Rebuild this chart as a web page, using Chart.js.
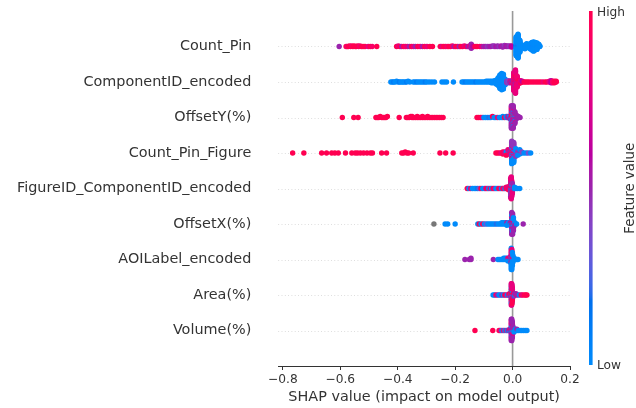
<!DOCTYPE html>
<html><head><meta charset="utf-8">
<script src="https://cdn.jsdelivr.net/npm/chart.js@4.4.1/dist/chart.umd.min.js"></script>
<style>html,body{margin:0;padding:0;background:#fff;} canvas{display:block;}</style>
</head><body>
<canvas id="c" width="636" height="408"></canvas>
<script>
// Features, top to bottom
const features = ["Count_Pin","ComponentID_encoded","OffsetY(%)","Count_Pin_Figure","FigureID_ComponentID_encoded","OffsetX(%)","AOILabel_encoded","Area(%)","Volume(%)"];
const xTicks = [-0.8,-0.6,-0.4,-0.2,0.0,0.2];
const xTitle = "SHAP value (impact on model output)";
const cbarLabel = "Feature value";
const cbarHigh = "High", cbarLow = "Low";

// Each entry: [SHAP value, normalised feature value (0 low .. 1 high, null = missing), number of samples]
const countPin = [[-0.604,0.5,1],
[-0.580,1,1],[-0.576,0.85,1],[-0.572,1,1],[-0.568,1,1],[-0.564,1,1],[-0.560,0.9,1],[-0.556,1,1],[-0.552,1,1],[-0.548,1,1],[-0.544,1,1],[-0.540,1,1],[-0.536,1,1],[-0.532,0.85,1],[-0.527,1,1],[-0.521,1,1],[-0.514,1,1],
[-0.503,0.8,1],[-0.496,1,1],[-0.489,0.9,1],[-0.473,1,1],
[-0.404,1,1],[-0.398,0.8,1],[-0.392,1,1],[-0.386,0.55,1],[-0.379,1,1],[-0.373,0.9,1],[-0.366,0.8,1],[-0.359,0.5,1],[-0.352,1,1],[-0.345,0.8,1],[-0.338,0.5,1],[-0.330,1,1],[-0.322,0.9,1],[-0.314,0.55,1],[-0.306,1,1],[-0.298,0.8,1],[-0.288,1,1],[-0.279,1,1],
[-0.252,1,1],[-0.246,0.8,1],[-0.240,1,1],[-0.234,1,1],[-0.228,0.85,1],[-0.222,1,1],[-0.216,1,1],[-0.210,0.9,1],[-0.204,0.55,1],[-0.198,1,1],[-0.192,1,1],[-0.186,0.5,1],[-0.180,1,1],[-0.174,1,1],[-0.168,0.8,1],[-0.162,1,1],[-0.156,0.55,1],
[-0.149,0.75,2],[-0.144,0.5,5],[-0.144,0.85,3],[-0.138,0.6,1],
[-0.131,1,1],[-0.124,1,1],
[-0.114,1,1],[-0.107,0.75,1],[-0.100,0.5,1],[-0.094,0.55,1],[-0.088,0.45,1],[-0.082,0.5,1],[-0.076,0.55,1],[-0.070,0.5,1],[-0.064,0.45,2],[-0.058,0.55,1],[-0.052,0.5,2],[-0.046,0.45,1],[-0.040,0.55,2],[-0.034,0.5,2],[-0.028,0.45,2],[-0.022,0.55,2],[-0.016,0.5,2],[-0.010,0.45,2],[-0.004,0.6,3],
[0.013,0,30],[0.013,0.15,4],[0.019,0,38],[0.019,0.2,4],[0.025,0,22],
[0.031,0,6],[0.037,0,5],[0.043,0,5],[0.049,0,5],[0.055,0,6],[0.061,0,10],[0.067,0,14],[0.073,0,16],[0.073,0.25,1],[0.079,0,14],[0.085,0,8],[0.091,0,4],[0.095,0,2]];

const componentID = [[-0.424,0,1],[-0.419,0,1],[-0.414,0.1,1],[-0.409,0,1],[-0.404,0,1],[-0.399,0,1],[-0.394,0.1,1],[-0.389,0,1],[-0.384,0,1],[-0.379,0,1],[-0.374,0,1],[-0.369,0.1,1],[-0.364,0,1],[-0.358,0,1],
[-0.346,0,1],[-0.340,0,1],[-0.334,0.1,1],[-0.328,0,1],[-0.322,0,1],[-0.316,0,1],[-0.310,0,1],[-0.304,0.1,1],[-0.298,0,1],[-0.290,0,1],
[-0.281,0,1],[-0.272,0,1],
[-0.246,0,1],[-0.238,0,1],[-0.230,0,1],
[-0.206,0,1],
[-0.176,0,1],[-0.170,0,1],[-0.164,0.1,1],[-0.158,0,1],[-0.152,0,1],[-0.146,0,1],[-0.140,0,1],[-0.134,0,1],[-0.128,0.1,1],[-0.122,0,1],[-0.116,0,1],[-0.110,0,1],[-0.104,0,1],[-0.098,0,1],[-0.092,0,2],[-0.086,0,2],[-0.080,0,2],[-0.074,0,3],[-0.068,0,3],[-0.062,0,4],
[-0.056,0,7],[-0.050,0,12],[-0.044,0,20],[-0.038,0,24],[-0.032,0,22],[-0.026,0,9],
[-0.020,0.45,3],[-0.014,0.4,3],[-0.014,0,1],[-0.008,0.5,2],[-0.008,0.8,1],[-0.002,0.8,2],[-0.002,0.5,2],
[0.004,0.8,16],[0.004,1,6],[0.004,0.5,4],[0.010,0.8,18],[0.010,1,8],[0.010,0.5,4],[0.010,0.65,4],[0.016,0.85,10],[0.016,1,4],[0.016,0.5,2],
[0.022,0.8,3],[0.022,1,2],[0.028,1,2],[0.028,0.8,2],[0.034,1,1],[0.034,0.6,1],[0.040,1,1],[0.046,1,1],[0.052,1,1],[0.058,1,1],[0.066,1,1],[0.074,1,1],[0.082,1,1],[0.090,1,1],[0.098,1,1],[0.106,0.85,1],[0.114,1,1],[0.120,1,1],
[0.128,0.8,2],[0.134,0.6,3],[0.134,1,1],[0.140,0.9,3],[0.146,1,3],[0.152,1,2]];

const offsetY = [[-0.593,1,1],[-0.553,1,1],[-0.538,1,1],
[-0.476,1,1],[-0.471,1,1],[-0.466,1,1],[-0.461,1,1],[-0.456,1,1],[-0.451,1,1],[-0.446,1,1],[-0.441,1,1],[-0.436,1,1],
[-0.395,1,1],
[-0.370,1,1],[-0.365,1,1],[-0.360,1,1],[-0.355,1,1],[-0.350,1,2],[-0.344,1,1],[-0.338,1,1],[-0.332,1,2],[-0.326,1,1],[-0.320,1,1],[-0.314,1,2],[-0.308,1,1],[-0.302,1,1],[-0.296,1,2],[-0.290,1,1],[-0.284,1,1],[-0.278,1,1],[-0.272,1,1],[-0.266,1,1],[-0.260,1,1],[-0.254,1,1],[-0.248,1,1],[-0.242,1,1],
[-0.124,1,1],[-0.118,1,1],[-0.112,1,1],[-0.106,0.9,1],[-0.100,0,1],[-0.094,0,1],[-0.088,0,1],[-0.082,0.2,1],[-0.076,0,1],[-0.070,1,1],[-0.064,0,1],[-0.058,0,1],[-0.052,0.85,1],[-0.046,0,1],[-0.040,0,1],[-0.034,0,2],[-0.028,1,1],[-0.022,0,2],[-0.016,0.5,2],[-0.010,0.5,2],[-0.010,0,1],
[-0.004,0.5,10],[-0.004,0.75,8],[-0.004,0,4],[-0.004,1,2],[0.002,0.5,10],[0.002,0,6],[0.002,0.75,6],[0.002,1,2],[0.008,0.5,6],[0.008,0.75,4],[0.008,0,3],[0.014,0.5,3],[0.014,0,1],[0.020,0.5,2],[0.026,0.5,1]];

const countPinFigure = [[-0.766,1,1],[-0.727,1,1],[-0.665,1,1],[-0.648,1,1],[-0.630,1,1],[-0.619,1,1],[-0.607,1,1],[-0.582,1,1],[-0.560,1,1],[-0.548,1,1],[-0.540,1,1],[-0.530,1,1],[-0.519,1,1],[-0.507,1,1],[-0.495,1,1],[-0.488,1,1],[-0.456,1,1],[-0.439,1,1],[-0.386,1,1],[-0.380,1,1],[-0.374,1,1],[-0.368,1,1],[-0.362,1,1],[-0.346,1,1],[-0.253,1,1],[-0.233,1,1],[-0.207,1,1],
[-0.058,1,1],[-0.052,1,1],[-0.046,1,1],[-0.040,0.8,1],[-0.034,1,2],[-0.028,0.8,2],[-0.022,1,2],[-0.022,0,1],[-0.016,0.8,2],[-0.016,0,1],[-0.010,1,1],[-0.010,0.5,1],[-0.010,0.8,1],
[-0.003,0,8],[-0.003,0.45,8],[-0.003,0.8,4],[-0.003,1,2],[0.004,0,8],[0.004,0.45,8],[0.004,0.8,3],[0.004,1,1],[0.011,0,4],[0.011,0.45,3],[0.011,0.8,1],
[0.018,0,2],[0.018,0.45,1],[0.025,0,2],[0.025,0.8,1],[0.032,0,1],[0.032,0.4,1],[0.040,0,1],[0.048,0,1],[0.055,0.35,1],[0.063,0,1]];

const figureID = [[-0.158,1,1],[-0.152,0,1],[-0.146,0.8,1],[-0.140,0,1],[-0.134,0,1],[-0.128,0,1],[-0.122,0.1,1],[-0.116,0.3,1],[-0.110,1,1],[-0.104,0,1],[-0.098,0,1],[-0.093,0.8,1],[-0.088,1,1],[-0.083,0,1],[-0.078,0.8,1],[-0.073,0,1],[-0.068,1,1],[-0.063,0.8,1],[-0.058,0,1],[-0.053,0,1],[-0.048,1,1],[-0.043,0.8,1],[-0.038,0,1],[-0.034,1,1],[-0.030,0.8,1],[-0.026,0,1],[-0.022,1,2],[-0.018,0.8,2],[-0.014,1,2],[-0.014,0.8,1],[-0.010,0.8,3],[-0.010,1,1],
[-0.0065,0.8,8],[-0.0065,0.5,4],[-0.0065,0,2],[-0.0065,1,2],[-0.0046,0.8,8],[-0.0046,0.5,5],[-0.0046,0,3],[-0.0046,1,2],[-0.0028,0.8,6],[-0.0028,0.5,4],[-0.0028,0,3],[-0.0009,0.8,4],[-0.0009,0.5,3],[-0.0009,0,2],
[0.003,0.5,2],[0.007,0,2],[0.012,0,1],[0.018,0,1],[0.025,0,1]];

const offsetX = [[-0.274,null,1],[-0.235,0,1],[-0.226,0,1],[-0.200,0,1],
[-0.121,0,1],[-0.116,1,1],[-0.110,0,1],[-0.104,1,1],[-0.098,0,1],[-0.092,0.3,1],[-0.086,0,1],[-0.080,0,1],[-0.074,0,1],[-0.068,0,1],[-0.062,0,1],[-0.056,0.2,1],[-0.050,0,1],[-0.044,0,1],[-0.038,0,2],[-0.032,0,2],[-0.026,0,2],[-0.020,0,2],[-0.020,0.5,1],[-0.014,0,2],[-0.008,0,2],[-0.008,0.5,1],
[-0.003,0.5,8],[-0.003,0,6],[-0.003,0.75,4],[0.000,0.5,8],[0.000,0,6],[0.000,0.75,3],[0.003,0.5,5],[0.003,0,4],[0.003,0.75,2],
[0.008,0.5,2],[0.008,0,1],[0.014,0,1],[0.037,0.5,1]];

const aoiLabel = [[-0.166,0.5,1],[-0.151,0.5,1],[-0.145,0.5,2],[-0.067,0.5,1],
[-0.051,0,1],[-0.046,0,1],[-0.041,0,1],[-0.036,0,1],[-0.031,0,2],[-0.026,0,2],[-0.021,0,2],[-0.016,0,2],[-0.016,0.8,1],[-0.011,0,2],[-0.011,0.8,1],[-0.008,0,3],[-0.008,0.8,2],
[-0.0045,0,8],[-0.0045,0.8,6],[-0.0045,0.5,2],[-0.0027,0,7],[-0.0027,0.8,6],[-0.0027,0.5,2],[-0.0008,0,6],[-0.0008,0.8,4],[0.001,0,4],[0.001,0.8,2],
[0.006,0,2],[0.010,0,1],[0.015,0,1],[0.019,0,1]];

const area = [[-0.068,0,1],[-0.063,0,1],[-0.058,0.9,1],[-0.052,0.5,1],[-0.047,0,1],[-0.042,0,1],[-0.037,0.5,1],[-0.032,0,1],[-0.027,1,1],[-0.022,0.8,1],[-0.018,0,1],[-0.014,0.8,1],[-0.011,0,1],[-0.011,1,1],[-0.008,0.5,1],[-0.008,1,1],
[-0.0045,0.8,6],[-0.0045,0,4],[-0.0045,0.5,4],[-0.0045,1,2],[-0.0033,0.8,6],[-0.0033,0,4],[-0.0033,0.5,3],[-0.0033,1,3],[-0.0021,0.8,5],[-0.0021,1,4],[-0.0021,0,3],[-0.0021,0.5,2],[-0.0009,1,4],[-0.0009,0.8,4],[-0.0009,0,2],
[0.003,0.5,2],[0.003,1,1],[0.007,0,1],[0.007,0.5,1],[0.012,0.8,1],[0.012,0.5,1],[0.018,0.5,1],[0.024,0,1],[0.030,1,1],[0.035,0.8,1],[0.041,1,1],[0.046,1,1],[0.050,1,1]];

const volume = [[-0.131,1,1],[-0.069,1,1],
[-0.047,1,1],[-0.042,0.8,1],[-0.037,0,1],[-0.032,0.85,1],[-0.027,0,1],[-0.022,0.8,1],[-0.018,0,1],[-0.014,0.5,1],[-0.010,0,1],[-0.010,0.8,1],[-0.007,0.5,2],
[-0.0045,0.5,8],[-0.0045,0.75,6],[-0.0045,0,2],[-0.0027,0.5,8],[-0.0027,0.75,5],[-0.0027,0,3],[-0.0009,0.5,6],[-0.0009,0.75,4],[-0.0009,0,2],[0.001,0.5,3],[0.001,0.75,2],[0.001,0,1],
[0.005,0,2],[0.005,0.5,1],[0.010,0,2],[0.015,0,1],[0.015,0.5,1],[0.020,0,1],[0.026,0,1],[0.032,0,1],[0.038,0,1],[0.044,0,1],[0.050,0,1]];

const rows = [countPin, componentID, offsetY, countPinFigure, figureID, offsetX, aoiLabel, area, volume];

// ---- SHAP red_blue colormap (LCH interpolation) ----
function lch2rgb(l, c, h) {
  const a = c * Math.cos(h), b = c * Math.sin(h);
  let y = (l + 16) / 116, x = a / 500 + y, z = y - b / 200;
  if (z < 0) z = 0;
  const f = v => v > 0.2068966 ? v * v * v : (v - 16 / 116) / 7.787;
  x = f(x) * 0.95047; y = f(y) * 1.0; z = f(z) * 1.08883;
  const r = 3.24048134 * x - 1.53715152 * y - 0.49853633 * z;
  const g = -0.96925495 * x + 1.87599 * y + 0.04155593 * z;
  const bb = 0.05564664 * x - 0.20404134 * y + 1.05731107 * z;
  const gm = v => { v = v > 0.0031308 ? 1.055 * Math.pow(v, 1 / 2.4) - 0.055 : 12.92 * v; return Math.min(1, Math.max(0, v)); };
  return [gm(r), gm(g), gm(bb)];
}
const cmapStops = (function () {
  const n = 100, out = [];
  const h0 = 4.6588, h1 = 0.35470565 + 2 * Math.PI;
  for (let i = 0; i < n; i++) {
    const l = i < 50 ? 54 + (40 - 54) * i / 49 : 40 + (54 - 40) * (i - 50) / 49;
    const c = 70 + 20 * i / (n - 1);
    const h = h0 + (h1 - h0) * i / (n - 1);
    out.push(lch2rgb(l, c, h));
  }
  return out;
})();
function cmap(t) {
  if (t === null || t === undefined) return '#777777';
  t = Math.min(1, Math.max(0, t));
  const p = t * 99, i = Math.min(98, Math.floor(p)), f = p - i;
  const a = cmapStops[i], b = cmapStops[i + 1];
  const c = [0, 1, 2].map(k => Math.round(255 * (a[k] + (b[k] - a[k]) * f)));
  return `rgb(${c[0]},${c[1]},${c[2]})`;
}

// ---- beeswarm layout like shap.summary_plot ----
function layout(rowData, pos) {
  const shaps = rowData.map(d => d[0]);
  const mn = Math.min(...shaps), mx = Math.max(...shaps);
  const nb = 100;
  const q = s => Math.round(nb * (s - mn) / (mx - mn + 1e-8));
  const groups = new Map();
  rowData.forEach(d => {
    const k = q(d[0]);
    if (!groups.has(k)) groups.set(k, []);
    groups.get(k).push({ s: d[0], fv: d[1], left: d[2] });
  });
  const keys = [...groups.keys()].sort((a, b) => a - b);
  const pts = [];
  keys.forEach(k => {
    const g = groups.get(k);
    let layer = 0, any = true;
    while (any) {
      any = false;
      for (const t of g) {
        if (t.left > 0) {
          t.left--; any = true;
          const ly = Math.ceil(layer / 2) * ((layer % 2) * 2 - 1);
          pts.push({ s: t.s, fv: t.fv, ly });
          layer++;
        }
      }
    }
  });
  const maxY = Math.max(...pts.map(p => p.ly + 1));
  const sc = 0.9 * 0.4 / maxY;
  return pts.map(p => ({ x: p.s, y: pos + p.ly * sc, fv: p.fv }));
}

const nF = features.length;
const datasets = rows.map((r, i) => {
  const pts = layout(r, nF - 1 - i);
  return {
    label: features[i],
    data: pts.map(p => ({ x: p.x, y: p.y })),
    pointBackgroundColor: pts.map(p => cmap(p.fv)),
    pointBorderWidth: 0,
    pointRadius: 2.7,
    pointHoverRadius: 2.7,
    showLine: false
  };
});

const FONT = "'DejaVu Sans', sans-serif";
const AX = '#333333';

const deco = {
  id: 'deco',
  beforeDatasetsDraw(chart) {
    const { ctx, chartArea: a, scales: { x, y } } = chart;
    ctx.save();
    ctx.strokeStyle = '#cccccc'; ctx.lineWidth = 0.8; ctx.setLineDash([0.8, 2.5]);
    for (let i = 0; i < nF; i++) {
      const py = Math.round(y.getPixelForValue(i)) + 0.5;
      ctx.beginPath(); ctx.moveTo(a.left, py); ctx.lineTo(a.right, py); ctx.stroke();
    }
    ctx.setLineDash([]);
    ctx.strokeStyle = '#999999'; ctx.lineWidth = 1.6;
    const px = x.getPixelForValue(0);
    ctx.beginPath(); ctx.moveTo(px, a.top); ctx.lineTo(px, a.bottom); ctx.stroke();
    ctx.restore();
  },
  afterDraw(chart) {
    const ctx = chart.ctx;
    const x0 = 589, w = 3.6, top = 11.5, bot = 365;
    ctx.save();
    for (let yy = Math.floor(top); yy < bot; yy++) {
      const t = 1 - (yy + 0.5 - top) / (bot - top);
      ctx.fillStyle = cmap(t);
      ctx.fillRect(x0, yy, w, 1);
    }
    ctx.fillStyle = AX;
    ctx.font = `12.2px ${FONT}`;
    ctx.textAlign = 'left'; ctx.textBaseline = 'middle';
    ctx.fillText(cbarHigh, 597, top + 1);
    ctx.fillText(cbarLow, 597, bot + 1);
    ctx.font = `13.3px ${FONT}`;
    ctx.translate(631, (top + bot) / 2);
    ctx.rotate(-Math.PI / 2);
    ctx.textAlign = 'center';
    ctx.fillText(cbarLabel, 0, 0);
    ctx.restore();
  }
};

new Chart(document.getElementById('c'), {
  type: 'scatter',
  data: { datasets },
  plugins: [deco],
  options: {
    responsive: false,
    animation: false,
    events: [],
    layout: { padding: { left: 0, right: 66, top: 11, bottom: 0 } },
    plugins: { legend: { display: false }, tooltip: { enabled: false } },
    scales: {
      x: {
        type: 'linear', min: -0.816, max: 0.2,
        afterBuildTicks: s => { s.ticks = xTicks.map(v => ({ value: v })); },
        afterFit: s => { s.height = 42; s.paddingLeft = 0; s.paddingRight = 0; },
        ticks: {
          autoSkip: false, maxRotation: 0, padding: 3,
          color: AX, font: { family: FONT, size: 12.2 },
          callback: v => v.toFixed(1).replace('-', '\u2212')
        },
        grid: { display: true, drawOnChartArea: false, drawTicks: true, tickLength: 4, color: AX, lineWidth: 1 },
        border: { display: true, color: AX, width: 1 },
        title: { display: true, text: xTitle, color: AX, font: { family: FONT, size: 14.4 }, padding: { top: 0, bottom: 2 } }
      },
      y: {
        type: 'linear', min: -1, max: nF,
        afterBuildTicks: s => { s.ticks = features.map((f, i) => ({ value: i })); },
        afterFit: s => { s.width = 278.3; s.paddingTop = 0; s.paddingBottom = 0; },
        ticks: {
          autoSkip: false, padding: 27, color: AX, font: { family: FONT, size: 14.4 },
          callback: v => features[nF - 1 - v]
        },
        grid: { display: false, drawTicks: false },
        border: { display: false }
      }
    }
  }
});
</script></body></html>
